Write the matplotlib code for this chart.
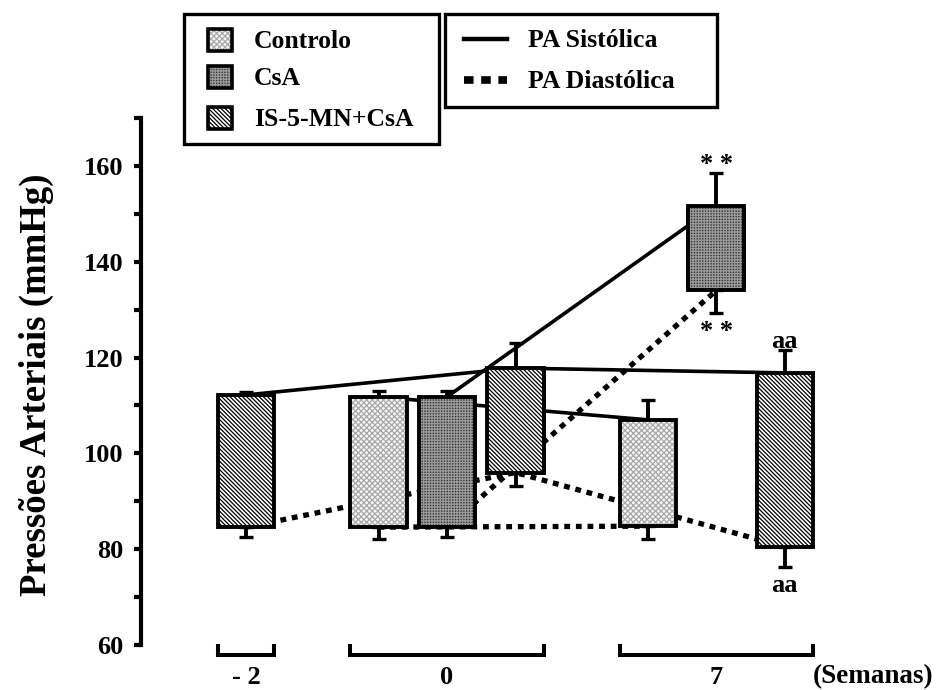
import numpy as np
import matplotlib
matplotlib.use("Agg")
import matplotlib.pyplot as plt
from matplotlib.patches import Rectangle
from matplotlib.lines import Line2D

plt.rcParams['font.family'] = ['Liberation Serif', 'DejaVu Serif']
plt.rcParams['font.weight'] = 'bold'
plt.rcParams['hatch.linewidth'] = 0.9

nan = np.nan

# data (mmHg); week -2 only has the IS-5-MN+CsA group
weeks = ['- 2', '0', '7']
groups = ['Controlo', 'CsA', 'IS-5-MN+CsA']

sys_ctrl = [nan, 111.8, 107.0]
sys_csa = [nan, 111.8, 151.7]
sys_is = [112.2, 117.8, 116.8]

dia_ctrl = [nan, 84.6, 84.8]
dia_csa = [nan, 84.6, 134.0]
dia_is = [84.6, 96.0, 80.5]

sys_err_ctrl = [nan, 1.2, 4.1]
sys_err_csa = [nan, 1.2, 6.9]
sys_err_is = [0.7, 5.2, 4.8]

dia_err_ctrl = [nan, 2.5, 2.7]
dia_err_csa = [nan, 2.0, 4.6]
dia_err_is = [2.0, 2.9, 4.2]

# significance marks (group, week index) -> text
marks_top = {('CsA', 2): '* *', ('IS-5-MN+CsA', 2): 'aa'}
marks_bottom = {('CsA', 2): '* *', ('IS-5-MN+CsA', 2): 'aa'}

systolic = [sys_ctrl, sys_csa, sys_is]
diastolic = [dia_ctrl, dia_csa, dia_is]
sys_errs = [sys_err_ctrl, sys_err_csa, sys_err_is]
dia_errs = [dia_err_ctrl, dia_err_csa, dia_err_is]

# look of each group: face colour, hatch colour, hatch
styles = [
    ('#f6f6f6', '#a8a8a8', 'xxxxxx'),
    ('#3c3c3c', '#9a9a9a', '++++++'),
    ('white', 'black', '\\' * 8),
]

# layout: centre of each week's block in bar slots
group_pos = [-1.0, 2.93, 6.86]
offsets = [-1, 0, 1]
width = 0.82

fig = plt.figure(figsize=(9.45, 6.9), dpi=100)
ax = fig.add_axes([141.5 / 945, 45 / 690, 803.5 / 945, 527 / 690])

bar_x = {}
for i, g in enumerate(groups):
    idx = [w for w in range(len(weeks)) if not np.isnan(systolic[i][w])]
    xs = [group_pos[w] + offsets[i] for w in idx]
    top = np.array([systolic[i][w] for w in idx])
    bot = np.array([diastolic[i][w] for w in idx])
    et = np.array([sys_errs[i][w] for w in idx])
    eb = np.array([dia_errs[i][w] for w in idx])
    for w, x in zip(idx, xs):
        bar_x[(g, w)] = x

    # systolic / diastolic lines behind the bars
    ax.plot(xs, top, color='k', lw=2.6, zorder=1)
    ax.plot(xs, bot, color='k', lw=3.8, ls=(0, (1.1, 1.1)), zorder=1)

    face, hcol, hatch = styles[i]
    ax.bar(xs, top - bot, width, bottom=bot, color=face, edgecolor=hcol,
           hatch=hatch, lw=0, zorder=3)
    ax.bar(xs, top - bot, width, bottom=bot, fill=False, edgecolor='k',
           lw=2.8, zorder=4)

    z = np.zeros(len(xs))
    ax.errorbar(xs, top, yerr=[z, et], fmt='none', ecolor='k', elinewidth=2.8,
                capsize=4.7, capthick=2.4, zorder=2)
    ax.errorbar(xs, bot, yerr=[eb, z], fmt='none', ecolor='k', elinewidth=2.8,
                capsize=4.7, capthick=2.4, zorder=2)

    for w in idx:
        x = bar_x[(g, w)]
        if (g, w) in marks_top:
            ax.text(x, systolic[i][w] + sys_errs[i][w] + 0.4, marks_top[(g, w)],
                    ha='center', va='baseline', fontsize=19)
        if (g, w) in marks_bottom:
            ax.text(x, diastolic[i][w] - dia_errs[i][w] - 1.5,
                    marks_bottom[(g, w)], ha='center', va='top', fontsize=19)

# axis styling
ax.set_xlim(-1.53, 10.2)
ax.set_ylim(60, 170)
for s in ['top', 'right', 'bottom']:
    ax.spines[s].set_visible(False)
ax.spines['left'].set_linewidth(3)
ax.set_xticks([])
ax.set_yticks(np.arange(60, 161, 20))
ax.set_yticks(np.arange(70, 171, 20), minor=True)
ax.tick_params(axis='y', which='both', direction='out', length=5, width=3)
ax.tick_params(axis='y', which='major', labelsize=19, pad=8)
ax.patch.set_visible(False)

# week brackets under the bars
for w, lab in enumerate(weeks):
    xs = [bar_x[(g, w)] for g in groups if (g, w) in bar_x]
    l, r = min(xs) - width / 2, max(xs) + width / 2
    ax.plot([l, l, r, r], [59.8, 57.9, 57.9, 59.8], color='k', lw=2.9,
            clip_on=False, solid_joinstyle='miter')
    ax.text((l + r) / 2, 51.8, lab, ha='center', va='baseline',
            fontsize=19, clip_on=False)

fig.text(813 / 945, 1 - 683 / 690, '(Semanas)', ha='left', va='baseline',
         fontsize=19.5)
fig.text(36 / 945, 1 - 385 / 690, 'Pressões Arteriais (mmHg)', rotation=90,
         ha='center', va='center', fontsize=26.5)


def fx(px):
    return px / 945


def fy(py):
    return 1 - py / 690


# legend 1: bar groups
fig.add_artist(Rectangle((fx(184), fy(144)), 255 / 945, 130 / 690,
                         transform=fig.transFigure, fill=False, ec='k', lw=2.4))
for i, (g, row) in enumerate(zip(groups, [40, 77, 118])):
    face, hcol, hatch = styles[i]
    fig.add_artist(Rectangle((fx(208), fy(row + 11)), 24 / 945, 22 / 690,
                             transform=fig.transFigure, facecolor=face,
                             edgecolor=hcol, hatch=hatch, lw=0))
    fig.add_artist(Rectangle((fx(208), fy(row + 11)), 24 / 945, 22 / 690,
                             transform=fig.transFigure, fill=False,
                             ec='k', lw=2.6))
    fig.text(fx(254), fy(row + 8), g, ha='left', va='baseline', fontsize=18.5)

# legend 2: line styles
fig.add_artist(Rectangle((fx(445), fy(107)), 272 / 945, 93 / 690,
                         transform=fig.transFigure, fill=False, ec='k', lw=2.4))
fig.add_artist(Line2D([fx(464), fx(507)], [fy(39), fy(39)],
                      transform=fig.transFigure, color='k', lw=3.2))
fig.add_artist(Line2D([fx(464), fx(507)], [fy(80), fy(80)],
                      transform=fig.transFigure, color='k', lw=5.5,
                      ls=(0, (1.25, 1.0))))
fig.text(fx(528), fy(47), 'PA Sistólica', ha='left', va='baseline', fontsize=18.5)
fig.text(fx(528), fy(88), 'PA Diastólica', ha='left', va='baseline', fontsize=18.5)

fig.savefig('out.png', dpi=100)
